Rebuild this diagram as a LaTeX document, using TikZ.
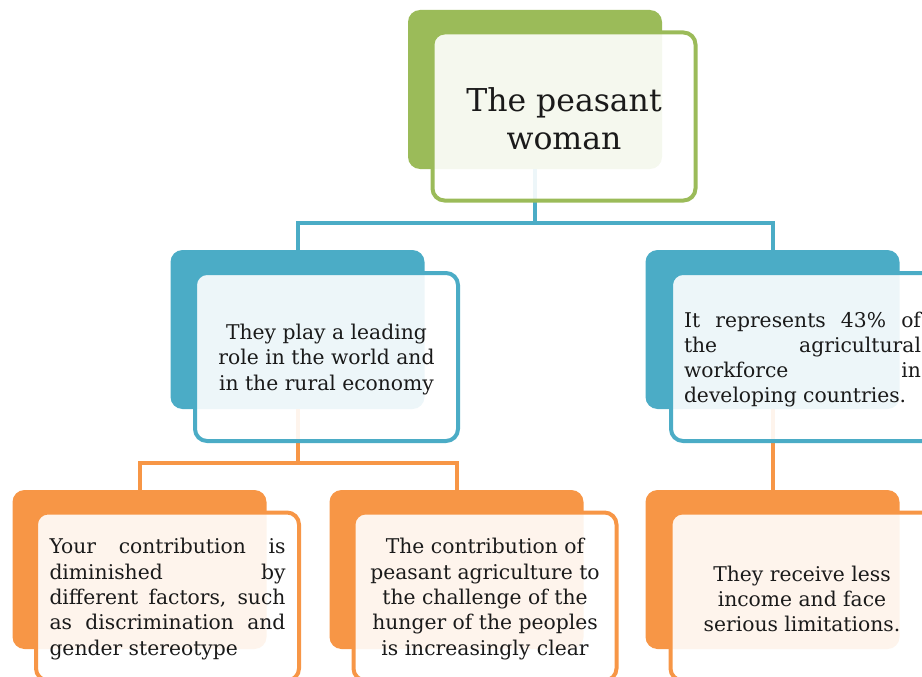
\documentclass[tikz,border=0pt]{standalone}
\usepackage{fontspec}
\setmainfont{DejaVu Serif}
\usepackage{tikz}
\definecolor{cgreen}{HTML}{9BBB59}
\definecolor{cblue}{HTML}{4BACC6}
\definecolor{corange}{HTML}{F79646}
\definecolor{ctext}{HTML}{1A1A1A}
\tikzset{
  backbox/.style={fill=#1, draw=none, rounded corners=12pt, minimum width=254pt, minimum height=159pt, inner sep=0pt, outer sep=0pt},
  frontbox/.style={draw=#1, line width=4pt, fill=white, fill opacity=0.9, draw opacity=1, rounded corners=12pt, minimum width=263pt, minimum height=168pt, inner sep=0pt, outer sep=0pt},
  conn/.style={draw=#1, line width=4pt},
  txt/.style={text=ctext, font=\fontsize{20.3}{25.3}\selectfont, inner sep=0pt, yshift=-2.5pt},
}
\begin{document}
\begin{tikzpicture}[x=1pt,y=-1pt]
\useasboundingbox (0,0) rectangle (922,677);
% back boxes
\node[backbox=cgreen]  (b0) at (535,89.5) {};
\node[backbox=cblue]   (b1) at (297.5,329.5) {};
\node[backbox=cblue]   (b2) at (772.5,329.5) {};
\node[backbox=corange] (b3) at (139.5,569.5) {};
\node[backbox=corange] (b4) at (456.5,569.5) {};
\node[backbox=corange] (b5) at (772.5,569.5) {};
% connectors
\coordinate (j0) at (535,223);
\coordinate (j1) at (297.5,463);
\draw[conn=cblue] (b0.south) -- (j0) -| (b1.north);
\draw[conn=cblue] (j0) -| (b2.north);
\draw[conn=corange] (b1.south) -- (j1) -| (b3.north);
\draw[conn=corange] (j1) -| (b4.north);
\draw[conn=corange] (b2.south) -- (b5.north);
% front boxes
\node[frontbox=cgreen]  (f0) at (564,116.5) {};
\node[frontbox=cblue]   (f1) at (326.5,357) {};
\node[frontbox=cblue]   (f2) at (802.5,357) {};
\node[frontbox=corange] (f3) at (167.5,596.5) {};
\node[frontbox=corange] (f4) at (485,596.5) {};
\node[frontbox=corange] (f5) at (802,596.5) {};
% texts
\node[txt, font=\fontsize{31.5}{38}\selectfont, align=center] (t0) at (f0) {The peasant\\woman};
\node[txt, align=center] (t1) at (f1) {They play a leading\\role in the world and\\in the rural economy};
\node[txt, text width=237pt, align=justify] (t2) at (f2) {It represents 43\% of\linebreak the agricultural\linebreak workforce in\linebreak developing countries.};
\node[txt, text width=236pt, align=justify] (t3) at (f3) {Your contribution is\linebreak diminished by\linebreak different factors, such\linebreak as discrimination and\linebreak gender stereotype};
\node[txt, align=center] (t4) at (f4) {The contribution of\\peasant agriculture to\\the challenge of the\\hunger of the peoples\\is increasingly clear};
\node[txt, align=center] (t5) at (f5) {They receive less\\income and face\\serious limitations.};
\end{tikzpicture}
\end{document}
